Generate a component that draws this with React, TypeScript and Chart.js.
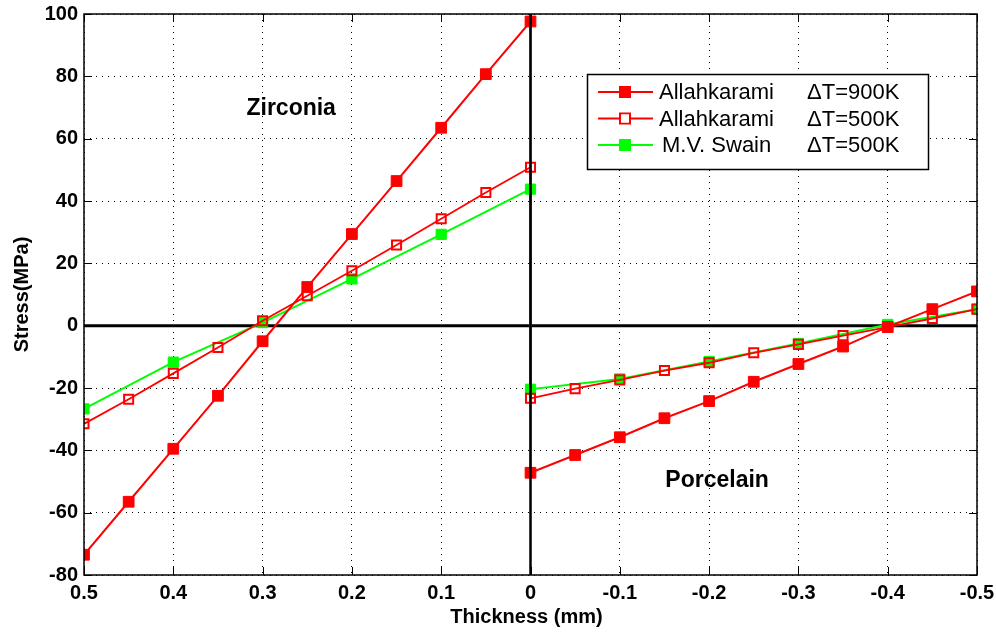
import { useEffect, useRef } from "react";
import { Chart, registerables } from "chart.js";

Chart.register(...registerables);

// Thickness positions (mm) for each layer
const zirconiaThickness = [0.5, 0.45, 0.4, 0.35, 0.3, 0.25, 0.2, 0.15, 0.1, 0.05, 0];
const porcelainThickness = [0, -0.05, -0.1, -0.15, -0.2, -0.25, -0.3, -0.35, -0.4, -0.45, -0.5];
const swainZirconiaThickness = [0.5, 0.4, 0.3, 0.2, 0.1, 0];
const swainPorcelainThickness = [0, -0.1, -0.2, -0.3, -0.4, -0.5];

// Stress (MPa)
const allah900Zirconia = [-73.5, -56.5, -39.5, -22.5, -5, 12.4, 29.4, 46.4, 63.5, 80.7, 97.6];
const allah900Porcelain = [-47.2, -41.5, -35.8, -29.7, -24.2, -18, -12.3, -6.7, -0.4, 5.3, 11];
const allah500Zirconia = [-31.5, -23.6, -15.3, -7, 1.6, 9.6, 17.6, 25.9, 34.3, 42.7, 50.8];
const allah500Porcelain = [-23.3, -20.2, -17.4, -14.4, -11.9, -8.7, -6, -3.2, -0.5, 2.3, 5.3];
const swainZirconia = [-26.7, -11.7, 1.0, 15, 29.3, 43.8];
const swainPorcelain = [-20.4, -17.1, -11.5, -5.7, 0.4, 5.3];

const seriesNames = ["Allahkarami", "Allahkarami", "M.V. Swain"];
const seriesDeltaT = ["\u0394T=900K", "\u0394T=500K", "\u0394T=500K"];
const regionNames = ["Zirconia", "Porcelain"];

// Axis ranges
const xMin = -0.5;
const xMax = 0.5;
const xStep = 0.1;
const yMin = -80;
const yMax = 100;
const yStep = 20;

const RED = "#ff0000";
const GREEN = "#00ff00";
const FONT = "'Liberation Sans', Arial, sans-serif";

const toPoints = (xs: number[], ys: number[]) => xs.map((x, i) => ({ x, y: ys[i] }));

const legendStyles = [
  { color: RED, filled: true },
  { color: RED, filled: false },
  { color: GREEN, filled: true },
];

function drawSquare(ctx: CanvasRenderingContext2D, cx: number, cy: number, side: number, color: string, filled: boolean) {
  ctx.save();
  ctx.strokeStyle = color;
  if (filled) {
    ctx.fillStyle = color;
    ctx.fillRect(cx - side / 2, cy - side / 2, side, side);
  } else {
    ctx.lineWidth = 2;
    ctx.strokeRect(cx - side / 2 + 1, cy - side / 2 + 1, side - 2, side - 2);
  }
  ctx.restore();
}

const decorations = {
  id: "decorations",
  beforeDatasetsDraw(chart: any) {
    const { ctx, chartArea: a, scales } = chart;
    const y0 = scales.y.getPixelForValue(0);
    ctx.save();
    ctx.strokeStyle = "#000";
    ctx.lineWidth = 3;
    ctx.beginPath();
    ctx.moveTo(a.left, y0);
    ctx.lineTo(a.right, y0);
    ctx.stroke();
    ctx.restore();
  },
  afterDatasetsDraw(chart: any) {
    const { ctx, chartArea: a, scales } = chart;
    const x0 = scales.x.getPixelForValue(0);
    ctx.save();
    ctx.strokeStyle = "#000";
    ctx.lineWidth = 2.5;
    ctx.beginPath();
    ctx.moveTo(x0, a.top);
    ctx.lineTo(x0, a.bottom);
    ctx.stroke();
    ctx.restore();
  },
  afterDraw(chart: any) {
    const { ctx, chartArea: a, scales } = chart;
    const xs = scales.x;
    const ys = scales.y;
    ctx.save();

    // frame
    ctx.strokeStyle = "#000";
    ctx.lineWidth = 1.5;
    ctx.strokeRect(a.left, a.top, a.right - a.left, a.bottom - a.top);

    // inward tick marks
    ctx.lineWidth = 1;
    const tl = 8;
    ctx.beginPath();
    xs.ticks.forEach((t: any) => {
      const px = Math.round(xs.getPixelForValue(t.value)) + 0.5;
      ctx.moveTo(px, a.bottom);
      ctx.lineTo(px, a.bottom - tl);
      ctx.moveTo(px, a.top);
      ctx.lineTo(px, a.top + tl);
    });
    ys.ticks.forEach((t: any) => {
      const py = Math.round(ys.getPixelForValue(t.value)) + 0.5;
      ctx.moveTo(a.left, py);
      ctx.lineTo(a.left + tl, py);
      ctx.moveTo(a.right, py);
      ctx.lineTo(a.right - tl, py);
    });
    ctx.stroke();

    // region labels
    ctx.fillStyle = "#000";
    ctx.font = `bold 23px ${FONT}`;
    ctx.textAlign = "center";
    ctx.textBaseline = "middle";
    ctx.fillText(regionNames[0], xs.getPixelForValue(0.268), ys.getPixelForValue(69.5));
    ctx.fillText(regionNames[1], xs.getPixelForValue(-0.209), ys.getPixelForValue(-49.8));

    // axis titles
    ctx.font = `bold 20px ${FONT}`;
    ctx.fillText("Thickness (mm)", (a.left + a.right) / 2 - 4, 617);
    ctx.save();
    ctx.translate(22, (a.top + a.bottom) / 2);
    ctx.rotate(-Math.PI / 2);
    ctx.font = `bold 20px ${FONT}`;
    ctx.fillText("Stress(MPa)", 0, 0);
    ctx.restore();

    // legend
    const bx = 587.5, by = 74.5, bw = 341, bh = 95;
    ctx.fillStyle = "#fff";
    ctx.fillRect(bx, by, bw, bh);
    ctx.strokeStyle = "#000";
    ctx.lineWidth = 1.5;
    ctx.strokeRect(bx, by, bw, bh);
    ctx.font = `22px ${FONT}`;
    ctx.textAlign = "left";
    ctx.textBaseline = "middle";
    legendStyles.forEach((s, i) => {
      const ry = 92 + i * 26.5;
      ctx.strokeStyle = s.color;
      ctx.lineWidth = 2;
      ctx.beginPath();
      ctx.moveTo(598, ry);
      ctx.lineTo(653, ry);
      ctx.stroke();
      drawSquare(ctx, 625, ry, 12, s.color, s.filled);
      if (!s.filled) {
        ctx.fillStyle = "#fff";
        ctx.fillRect(621, ry - 4, 8, 8);
      }
      ctx.fillStyle = "#000";
      ctx.fillText(seriesNames[i], i === 2 ? 662 : 659, ry + 1);
      ctx.fillText(seriesDeltaT[i], 807, ry + 1);
    });

    ctx.restore();
  },
};

export default function App() {
  const canvasRef = useRef<HTMLCanvasElement | null>(null);

  useEffect(() => {
    document.body.style.margin = "0";
    const canvas = canvasRef.current;
    if (!canvas) return;
    const chart = new Chart(canvas, {
      type: "line",
      data: {
        datasets: [
          {
            label: `${seriesNames[0]} ${seriesDeltaT[0]}`,
            data: [...toPoints(zirconiaThickness, allah900Zirconia), ...toPoints(porcelainThickness, allah900Porcelain)],
            borderColor: RED,
            backgroundColor: RED,
            borderWidth: 2,
            pointStyle: "rect",
            pointRadius: 7.6,
            pointBorderWidth: 1,
            pointBackgroundColor: RED,
            pointBorderColor: RED,
          },
          {
            label: `${seriesNames[1]} ${seriesDeltaT[1]}`,
            data: [...toPoints(zirconiaThickness, allah500Zirconia), ...toPoints(porcelainThickness, allah500Porcelain)],
            borderColor: RED,
            backgroundColor: "rgba(0,0,0,0)",
            borderWidth: 1.8,
            pointStyle: "rect",
            pointRadius: 6.4,
            pointBorderWidth: 2,
            pointBackgroundColor: "rgba(0,0,0,0)",
            pointBorderColor: RED,
          },
          {
            label: `${seriesNames[2]} ${seriesDeltaT[2]}`,
            data: [...toPoints(swainZirconiaThickness, swainZirconia), ...toPoints(swainPorcelainThickness, swainPorcelain)],
            borderColor: GREEN,
            backgroundColor: GREEN,
            borderWidth: 2,
            pointStyle: "rect",
            pointRadius: 7.2,
            pointBorderWidth: 1,
            pointBackgroundColor: GREEN,
            pointBorderColor: GREEN,
          },
        ],
      },
      options: {
        responsive: false,
        animation: false,
        events: [],
        layout: { padding: { top: 14, right: 19, left: 0, bottom: 0 } },
        plugins: { legend: { display: false }, tooltip: { enabled: false } },
        elements: { line: { tension: 0 } },
        scales: {
          x: {
            type: "linear",
            reverse: true,
            min: xMin,
            max: xMax,
            afterFit: (s: any) => {
              s.height = 60;
              s.paddingLeft = 0;
              s.paddingRight = 0;
            },
            ticks: {
              stepSize: xStep,
              padding: 6,
              color: "#000",
              font: { family: FONT, size: 20, weight: "bold" },
              callback: (v: any) => Number(Number(v).toFixed(1)).toString(),
            },
            grid: { color: "#000", lineWidth: 1, drawTicks: false },
            border: { display: false, dash: [1, 5] },
          },
          y: {
            type: "linear",
            min: yMin,
            max: yMax,
            afterFit: (s: any) => {
              s.width = 84;
              s.paddingTop = 0;
              s.paddingBottom = 0;
            },
            ticks: {
              stepSize: yStep,
              padding: 6,
              color: "#000",
              font: { family: FONT, size: 20, weight: "bold" },
            },
            grid: { color: "#000", lineWidth: 1, drawTicks: false },
            border: { display: false, dash: [1, 5] },
          },
        },
      },
      plugins: [decorations],
    });
    return () => chart.destroy();
  }, []);

  return (
    <div style={{ position: "absolute", left: 0, top: 0, width: 996, height: 635, background: "#fff" }}>
      <canvas ref={canvasRef} width={996} height={635} />
    </div>
  );
}
